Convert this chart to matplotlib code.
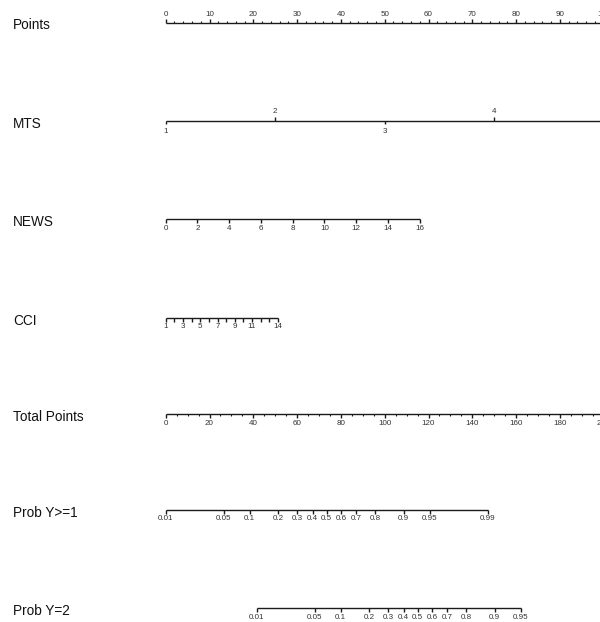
import numpy as np
import matplotlib
matplotlib.use("Agg")
import matplotlib.pyplot as plt

plt.rcParams['font.family'] = ['Liberation Sans', 'DejaVu Sans']

# ---- data (nomogram scales) ----
points_ticks = list(range(0, 101, 10))
points_minor = list(range(0, 101, 2))

mts_values = [1, 2, 3, 4, 5]
mts_points_per_unit = 25.0          # MTS 1 -> 0 pts, 5 -> 100 pts

news_values = list(range(0, 17, 2))
news_points_per_unit = 58.0 / 16.0

cci_values = list(range(1, 15))
cci_labels = [1, 3, 5, 7, 9, 11, 14]
cci_points_per_unit = 25.64 / 13.0

total_ticks = list(range(0, 201, 20))
total_minor = list(range(0, 201, 5))

prob1_ticks = [0.01, 0.05, 0.1, 0.2, 0.3, 0.4, 0.5, 0.6, 0.7, 0.8, 0.9, 0.95, 0.99]
prob2_ticks = [0.01, 0.05, 0.1, 0.2, 0.3, 0.4, 0.5, 0.6, 0.7, 0.8, 0.9, 0.95]
tp_per_logit = 16.0
intercept_y1 = -4.595
intercept_y2 = -4.595 - 2.597

row_names = ["Points", "MTS", "NEWS", "CCI", "Total Points", "Prob Y>=1", "Prob Y=2"]

# ---- figure ----
W, H = 600, 622
fig = plt.figure(figsize=(W / 100, H / 100), dpi=100)
ax = fig.add_axes([0, 0, 1, 1])
px_per_pt = 4.38
x0_px = 165.7
ax.set_xlim(-x0_px / px_per_pt, (W - x0_px) / px_per_pt)
ax.set_ylim(H, 0)
ax.axis('off')

lc = '#1a1a1a'
lw = 1.0
tfs = 5.8
lfs = 9.8

def logit(p):
    return np.log(p / (1 - p))

def axis_line(y, xs_major, up, major_len=3.5, xs_minor=None, minor_len=1.8):
    allx = list(xs_major) + list(xs_minor or [])
    ax.hlines(y, min(allx), max(allx), color=lc, lw=lw)
    sgn = -1 if up else 1
    for x in xs_major:
        ax.vlines(x, y, y + sgn * major_len, color=lc, lw=lw)
    if xs_minor:
        for x in xs_minor:
            ax.vlines(x, y, y + sgn * minor_len, color=lc, lw=lw * 0.8)

def put_labels(y, xs, labels, dy):
    for x, l in zip(xs, labels):
        ax.text(x, y + dy, l, ha='center', va='center', fontsize=tfs, color='#333333')

row_y = {"Points": 22.5, "MTS": 120.7, "NEWS": 219.0, "CCI": 318.3,
         "Total Points": 414.0, "Prob Y>=1": 510.0, "Prob Y=2": 608.3}

# Points
y = row_y["Points"]
axis_line(y, points_ticks, up=True, major_len=4.0,
          xs_minor=[v for v in points_minor if v % 10], minor_len=2.0)
put_labels(y, points_ticks, [str(v) for v in points_ticks], -8.5)

# MTS
y = row_y["MTS"]
mts_x = [(v - 1) * mts_points_per_unit for v in mts_values]
ax.hlines(y, min(mts_x), max(mts_x), color=lc, lw=lw)
for v, x in zip(mts_values, mts_x):
    if v % 2 == 0:
        ax.vlines(x, y, y - 3.5, color=lc, lw=lw)
        ax.text(x, y - 9.5, str(v), ha='center', va='center', fontsize=tfs, color='#333333')
    else:
        ax.vlines(x, y, y + 3.5, color=lc, lw=lw)
        ax.text(x, y + 11, str(v), ha='center', va='center', fontsize=tfs, color='#333333')

# NEWS
y = row_y["NEWS"]
news_x = [v * news_points_per_unit for v in news_values]
axis_line(y, news_x, up=False, major_len=3.5)
put_labels(y, news_x, [str(v) for v in news_values], 10.0)

# CCI
y = row_y["CCI"]
cci_x = [(v - 1) * cci_points_per_unit for v in cci_values]
axis_line(y, cci_x, up=False, major_len=3.5)
put_labels(y, [(v - 1) * cci_points_per_unit for v in cci_labels],
           [str(v) for v in cci_labels], 8.0)

# Total Points
y = row_y["Total Points"]
tp_x = [v * 0.5 for v in total_ticks]
axis_line(y, tp_x, up=False, major_len=3.5,
          xs_minor=[v * 0.5 for v in total_minor if v % 20], minor_len=2.0)
put_labels(y, tp_x, [str(v) for v in total_ticks], 9.5)

# Probabilities
def prob_row(name, ticks, intercept):
    y = row_y[name]
    xs = [0.5 * (logit(p) - intercept) * tp_per_logit for p in ticks]
    axis_line(y, xs, up=False, major_len=3.5)
    put_labels(y, xs, [f"{p:g}" for p in ticks], 9.0)

prob_row("Prob Y>=1", prob1_ticks, intercept_y1)
prob_row("Prob Y=2", prob2_ticks, intercept_y2)

# Row names
label_x = -x0_px / px_per_pt + 13 / px_per_pt
for n in row_names:
    ax.text(label_x, row_y[n] + 2.8, n, ha='left', va='center', fontsize=lfs, color='#111111')

fig.savefig("out.png", dpi=100)
